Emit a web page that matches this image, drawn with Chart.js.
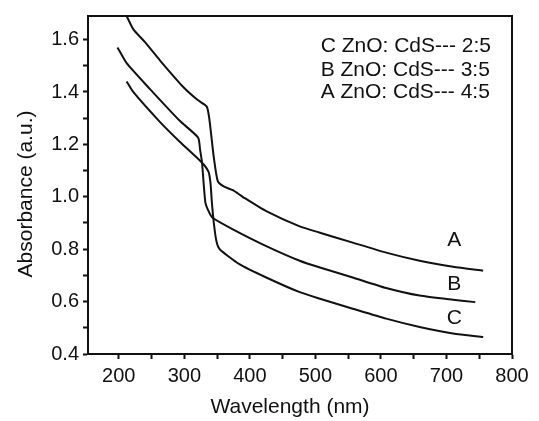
<!DOCTYPE html>
<html>
<head>
    <title>Absorbance</title>
    <style>
        * {
            margin: 0;
            padding: 0;
        }
        body {
            background: #fff;
        }
        canvas {
            display: block;
        }
    </style>
</head>
<body>
    <canvas id="absChart" width="539" height="421"></canvas>
    <script src="https://cdn.jsdelivr.net/npm/chart.js"></script>
    <script>
        // Curva A (ZnO:CdS 4:5)
        var waveA = [212, 222, 240, 263, 298, 320, 334, 338, 345, 351, 360, 374, 389, 425, 476, 507, 557, 608, 659, 710, 756];
        var absA  = [1.69, 1.64, 1.59, 1.52, 1.42, 1.37, 1.345, 1.30, 1.15, 1.06, 1.04, 1.025, 1.0, 0.945, 0.887, 0.863, 0.825, 0.787, 0.756, 0.733, 0.718];

        // Curva B (ZnO:CdS 3:5)
        var waveB = [198, 212, 248, 293, 321, 324, 327, 332, 337, 343, 374, 425, 476, 507, 557, 608, 659, 710, 744];
        var absB  = [1.57, 1.51, 1.41, 1.29, 1.226, 1.18, 1.13, 0.98, 0.945, 0.92, 0.876, 0.812, 0.756, 0.73, 0.692, 0.652, 0.623, 0.607, 0.598];

        // Curva C (ZnO:CdS 2:5)
        var waveC = [212, 222, 263, 293, 327, 337, 340, 342, 345, 349, 354, 384, 425, 476, 507, 557, 608, 659, 710, 756];
        var absC  = [1.44, 1.40, 1.285, 1.21, 1.13, 1.095, 1.05, 0.98, 0.90, 0.83, 0.80, 0.743, 0.692, 0.636, 0.611, 0.573, 0.535, 0.503, 0.478, 0.465];

        var legendLines = ['C ZnO: CdS--- 2:5', 'B ZnO: CdS--- 3:5', 'A ZnO: CdS--- 4:5'];
        var curveNames = ['A', 'B', 'C'];
        var xTitle = 'Wavelength (nm)';
        var yTitle = 'Absorbance (a.u.)';

        // posicoes dos rotulos (em unidades dos eixos)
        var curveLabelX = [712, 712, 712];
        var curveLabelY = [0.836, 0.666, 0.538];
        var legendX = 508;
        var legendY = [1.576, 1.485, 1.398];

        var FONT = 'Liberation Sans, Arial, sans-serif';
        var INK = '#111';

        function toPoints(xs, ys) {
            return xs.map(function (x, i) { return { x: x, y: ys[i] }; });
        }

        function lineSet(xs, ys) {
            return {
                data: toPoints(xs, ys),
                borderColor: INK,
                borderWidth: 2,
                pointRadius: 0,
                tension: 0.2,
                fill: false
            };
        }

        // moldura de cima e da direita, titulos dos eixos e textos
        var extras = {
            id: 'extras',
            afterDraw: function (chart) {
                var c = chart.ctx, a = chart.chartArea;
                var sx = chart.scales.x, sy = chart.scales.y;
                c.save();
                c.strokeStyle = INK;
                c.lineWidth = 2;
                c.beginPath();
                c.moveTo(a.left - 1, a.top);
                c.lineTo(a.right, a.top);
                c.lineTo(a.right, a.bottom + 1);
                c.stroke();

                c.fillStyle = INK;
                c.font = '21px ' + FONT;
                c.textBaseline = 'middle';
                c.textAlign = 'left';
                legendLines.forEach(function (t, i) {
                    c.fillText(t, sx.getPixelForValue(legendX), sy.getPixelForValue(legendY[i]));
                });
                c.textAlign = 'center';
                curveNames.forEach(function (t, i) {
                    c.fillText(t, sx.getPixelForValue(curveLabelX[i]), sy.getPixelForValue(curveLabelY[i]));
                });

                // titulos
                c.textBaseline = 'alphabetic';
                c.fillText(xTitle, (a.left + a.right) / 2 - 10, a.bottom + 59);
                c.translate(a.left - 56, (a.top + a.bottom) / 2 + 9);
                c.rotate(-Math.PI / 2);
                c.fillText(yTitle, 0, 0);
                c.restore();
            }
        };

        var ctx = document.getElementById('absChart').getContext('2d');
        var absChart = new Chart(ctx, {
            type: 'line',
            data: {
                datasets: [lineSet(waveA, absA), lineSet(waveB, absB), lineSet(waveC, absC)]
            },
            options: {
                responsive: false,
                animation: false,
                layout: {
                    padding: { left: 10, right: 27, top: 13, bottom: 3 }
                },
                plugins: {
                    legend: { display: false },
                    tooltip: { enabled: false }
                },
                scales: {
                    x: {
                        type: 'linear',
                        min: 153,
                        max: 800,
                        afterFit: function (s) { s.height = 64; },
                        border: { display: true, color: INK, width: 2 },
                        grid: {
                            drawOnChartArea: false,
                            drawTicks: true,
                            tickLength: 5,
                            tickColor: INK,
                            tickWidth: 2
                        },
                        ticks: {
                            stepSize: 50,
                            includeBounds: false,
                            autoSkip: false,
                            maxRotation: 0,
                            padding: 5,
                            color: INK,
                            font: { family: FONT, size: 20 },
                            callback: function (v) {
                                return Math.round(v) % 100 === 0 ? String(Math.round(v)) : '';
                            }
                        }
                    },
                    y: {
                        min: 0.4,
                        max: 1.69,
                        afterFit: function (s) { s.width = 78; },
                        border: { display: true, color: INK, width: 2 },
                        grid: {
                            drawOnChartArea: false,
                            drawTicks: true,
                            tickLength: 5,
                            tickColor: INK,
                            tickWidth: 2
                        },
                        ticks: {
                            stepSize: 0.1,
                            includeBounds: false,
                            autoSkip: false,
                            padding: 4,
                            color: INK,
                            font: { family: FONT, size: 20 },
                            callback: function (v) {
                                var k = Math.round(v * 10);
                                return k % 2 === 0 ? (k / 10).toFixed(1) : '';
                            }
                        }
                    }
                }
            },
            plugins: [extras]
        });
    </script>
</body>
</html>
